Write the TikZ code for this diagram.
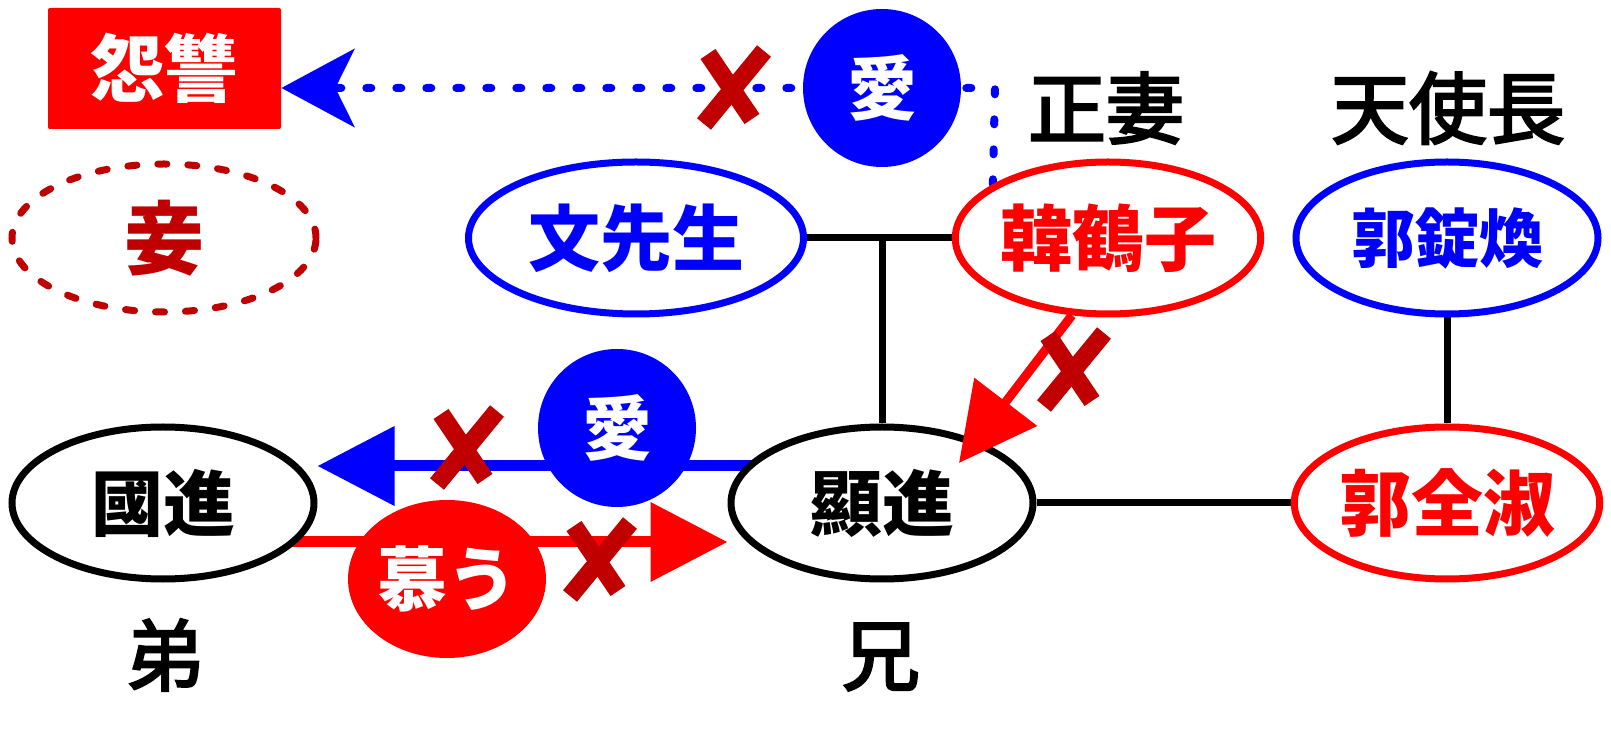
\documentclass[tikz,border=0pt]{standalone}
\usepackage{fontspec}
\newfontfamily\jpfont{Noto Sans CJK JP}
\newfontfamily\jpcapfont[FakeBold=3]{Noto Sans CJK JP}
\usetikzlibrary{arrows.meta, shapes.geometric}
\definecolor{myred}{HTML}{FF0000}
\definecolor{myblue}{HTML}{0000FF}
\definecolor{mybatsucolor}{HTML}{C00000}
\pgfdeclarelayer{background}
\pgfsetlayers{background,main}
\tikzset{
  person/.style={draw, ellipse, fill=white, line width=3.5pt, inner sep=0pt, minimum width=151pt, minimum height=76pt, font=\jpfont\bfseries\fontsize{36pt}{36pt}\selectfont},
  caption/.style={inner sep=0pt, font=\jpcapfont\fontsize{39pt}{39pt}\selectfont},
  bubble/.style={circle, fill=#1, text=white, inner sep=0pt, minimum size=79pt, font=\jpfont\bfseries\fontsize{35pt}{35pt}\selectfont},
  kinship/.style={black, line width=3.5pt},
  bigarrow/.style={#1, line width=5.5pt, -{Triangle[length=38.5pt, width=38.5pt]}},
  dotarrow/.style={myblue, line width=4pt, line cap=round, dash pattern=on 2.5pt off 12.5pt, -{Stealth[length=36.5pt, width=39pt, inset=9.5pt]}},
  batsustroke/.style={mybatsucolor, line width=9pt},
  batsu/.pic={\draw[batsustroke] (-24,-34) -- (20,31); \draw[batsustroke] (32,-37) -- (-28,36);}
}
\begin{document}
\begin{tikzpicture}[x=0.5pt, y=-0.5pt]%
\useasboundingbox (0,0) rectangle (1611,742);%
\node[rectangle, fill=myred, text=white, rounded corners=1pt, minimum width=116.5pt, minimum height=60.5pt, font=\jpfont\bfseries\fontsize{37pt}{37pt}\selectfont] (enshu) at (164.5,68.5) {怨讐};%
\node[person, draw=mybatsucolor, text=mybatsucolor, line width=3.5pt, dash pattern=on 4.5pt off 10.5pt, line cap=round, fill=none, minimum width=152pt, minimum height=74pt, font=\jpfont\bfseries\fontsize{40pt}{40pt}\selectfont] (mekake) at (164,238) {妾};%
\node[person, draw=myblue, text=myblue, minimum width=167.5pt] (bun) at (636,238) {文先生};%
\node[person, draw=myred, text=myred] (hak) at (1108,238) {韓鶴子};%
\node[person, draw=myblue, text=myblue, font=\jpfont\bfseries\fontsize{32pt}{32pt}\selectfont] (tei) at (1447,238) {郭錠煥};%
\node[person] (kuk) at (163,503) {國進};%
\node[person] (ken) at (882,503) {顯進};%
\node[person, draw=myred, text=myred] (zen) at (1447,503) {郭全淑};%
\node[caption] (seisai) at (1106,108) {正妻};%
\node[caption] (tenshi) at (1448,108) {天使長};%
\node[caption] (otouto) at (165,655) {弟};%
\node[caption] (ani) at (881,657) {兄};%
\coordinate (corner) at (995,88);%
\coordinate (hit) at (959,463);%
\begin{pgfonlayer}{background}%
\draw[kinship] (bun.east) -- (hak.west);%
\draw[kinship] (ken.north) -- (ken.north |- bun.east);%
\draw[kinship] (ken.east) -- (zen.west);%
\draw[kinship] (tei.south) -- (zen.north);%
\draw[bigarrow=myblue] ([yshift=18.5pt]ken.center) -- ([yshift=18.5pt]kuk.east);%
\draw[bigarrow=myred] ([yshift=-19.5pt]kuk.center) -- ([yshift=-19.5pt]ken.west);%
\draw[dotarrow] (hak.155) -- (corner) -- (enshu.east |- corner);%
\end{pgfonlayer}%
\draw[myred, line width=4.5pt, -{Triangle[length=38.5pt, width=38.5pt]}] (hak.245) -- (hit);%
\node[bubble=myblue] (aitop) at (882,88) {愛};%
\node[bubble=myblue] (ailow) at (617,428) {愛};%
\node[bubble=myred, ellipse, minimum width=98pt, minimum height=79pt] (shitau) at (447,579) {慕う};%
\pic at (732,88) {batsu};%
\pic at (465,448) {batsu};%
\pic at (598,560) {batsu};%
\pic at (1072,370) {batsu};%
\end{tikzpicture}
\end{document}
